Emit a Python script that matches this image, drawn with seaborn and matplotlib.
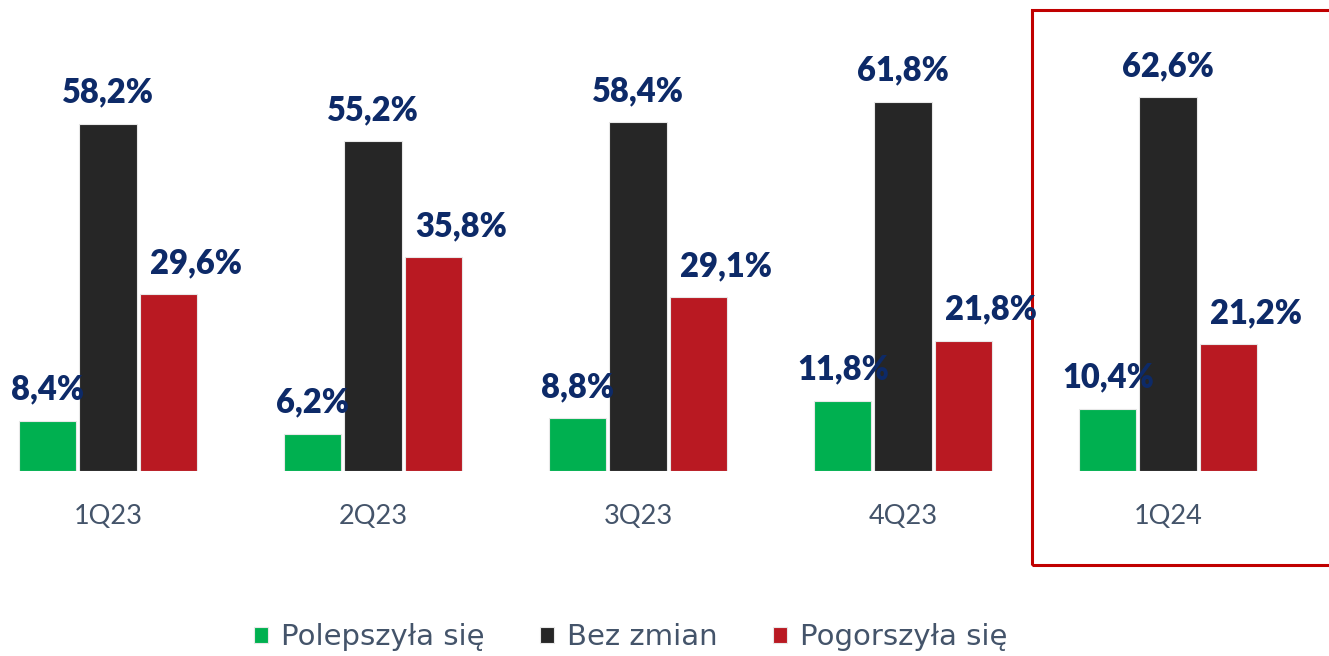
import matplotlib
matplotlib.use("Agg")
import matplotlib.pyplot as plt
import seaborn as sns
import pandas as pd
from matplotlib.patches import Rectangle

categories = ["1Q23", "2Q23", "3Q23", "4Q23", "1Q24"]
series = ["Polepszyła się", "Bez zmian", "Pogorszyła się"]
polepszyla = [8.4, 6.2, 8.8, 11.8, 10.4]
bez_zmian = [58.2, 55.2, 58.4, 61.8, 62.6]
pogorszyla = [29.6, 35.8, 29.1, 21.8, 21.2]
colors = ["#00b050", "#262626", "#b91922"]

rows = []
for name, vals in zip(series, [polepszyla, bez_zmian, pogorszyla]):
    for c, v in zip(categories, vals):
        rows.append({"kwartal": c, "seria": name, "wartosc": v})
df = pd.DataFrame(rows)

sns.set_theme(style="white")
plt.rcParams["font.family"] = ["Lato", "DejaVu Sans"]

fig = plt.figure(figsize=(13.29, 6.56), dpi=100)
ax = fig.add_axes([0, 185 / 656, 1, 471 / 656])

sns.barplot(data=df, x="kwartal", y="wartosc", hue="seria", palette=colors,
            width=0.68, gap=0.05, ax=ax, legend=True, saturation=1,
            edgecolor="#e8e8e8", linewidth=0.8)

ax.set_xlim(-108 / 265, (1329 - 108) / 265)
ax.set_ylim(0, 471 / 5.97)
for s in ax.spines.values():
    s.set_visible(False)
ax.set_yticks([])
ax.set_xlabel("")
ax.set_ylabel("")
ax.tick_params(axis="x", length=0, pad=24, labelsize=19.5, labelcolor="#44546a")

label_color = "#0d2a68"
x_offsets = [0, 0, 20]
for cont, dx in zip(ax.containers, x_offsets):
    for bar in cont:
        h = bar.get_height()
        txt = f"{h:.1f}".replace(".", ",") + "%"
        ax.annotate(txt, (bar.get_x() + bar.get_width() / 2, h),
                    xytext=(dx, 11), textcoords="offset points",
                    ha="center", va="bottom", fontsize=23.5, fontweight="heavy",
                    color=label_color, annotation_clip=False)

# highlight frame around last quarter
ax.add_patch(Rectangle((4 - 136 / 265, -94 / 5.97), 1.2, (94 + 461) / 5.97,
                       fill=False, edgecolor="#c00000", linewidth=2.2,
                       clip_on=False))

handles, labels = ax.get_legend_handles_labels()
ax.legend(handles, labels, loc="center", bbox_to_anchor=(631 / 1329, 19 / 656),
          bbox_transform=fig.transFigure, ncol=3, frameon=False,
          prop={"family": "DejaVu Sans", "size": 21},
          labelcolor="#44546a", handlelength=0.48, handleheight=0.48,
          handletextpad=0.45, columnspacing=1.9)

fig.savefig("out.png", dpi=100)
